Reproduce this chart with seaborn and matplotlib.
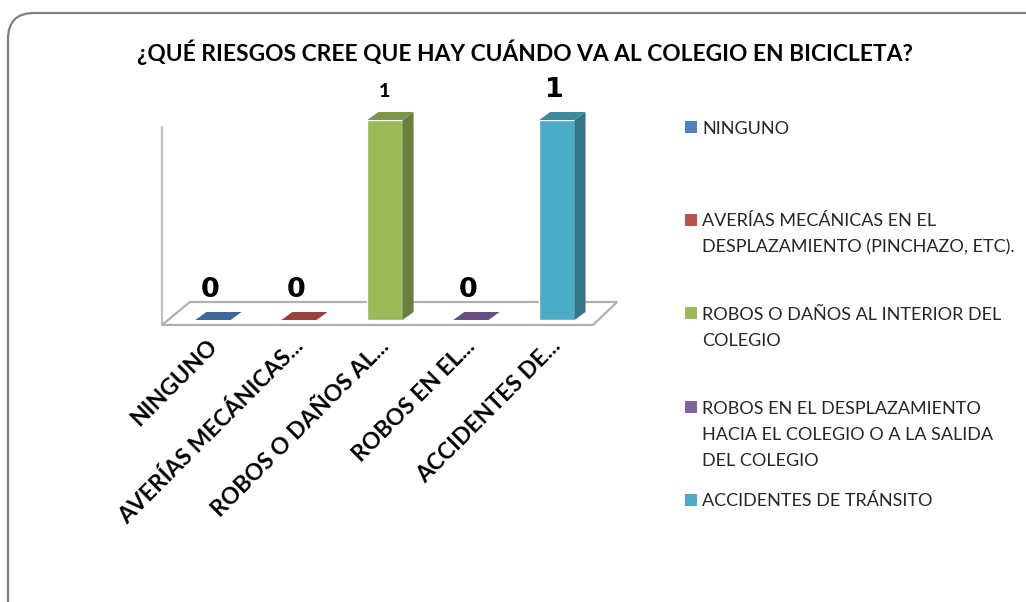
import numpy as np
import matplotlib
matplotlib.use("Agg")
import matplotlib.pyplot as plt
import matplotlib.transforms as mtrans
from matplotlib.patches import Polygon, Rectangle, FancyBboxPatch
import seaborn as sns

# data
categories = ["NINGUNO", "AVERÍAS MECÁNICAS", "ROBOS O DAÑOS", "ROBOS EN EL", "ACCIDENTES"]
values = [0, 0, 1, 0, 1]
tick_labels = ["NINGUNO", "AVERÍAS MECÁNICAS...", "ROBOS O DAÑOS AL...",
               "ROBOS EN EL...", "ACCIDENTES DE..."]
legend_labels = [
    "NINGUNO",
    "AVERÍAS MECÁNICAS EN EL\nDESPLAZAMIENTO (PINCHAZO, ETC).",
    "ROBOS O DAÑOS AL INTERIOR DEL\nCOLEGIO",
    "ROBOS EN EL DESPLAZAMIENTO\nHACIA EL COLEGIO O A LA SALIDA\nDEL COLEGIO",
    "ACCIDENTES DE TRÁNSITO",
]
colors = ["#4F81BD", "#C0504D", "#9BBB59", "#8064A2", "#4BACC6"]
title = "¿QUÉ RIESGOS CREE QUE HAY CUÁNDO VA AL COLEGIO EN BICICLETA?"

sns.set_theme(style="white")
plt.rcParams["font.family"] = ["Lato", "DejaVu Sans"]

W, H = 1026, 602
fig = plt.figure(figsize=(W / 100, H / 100), dpi=100, facecolor="white")

# rounded chart border (pixel coords)
border = FancyBboxPatch((8, -40), 1060, 589 + 40,
                        boxstyle="round,pad=0,rounding_size=26",
                        transform=mtrans.IdentityTransform(),
                        facecolor="none", edgecolor="#7F7F7F", linewidth=1.6)
fig.patches.append(border)

ax = fig.add_axes([162 / W, 1 - 320 / H, 431 / W, 200 / H])
sns.barplot(x=categories, y=values, hue=categories, palette=colors, order=categories,
            hue_order=categories, legend=False, width=0.41, saturation=1, ax=ax)
ax.set_xlim(-0.593, 4.42)
ax.set_ylim(0, 1)
for s in ax.spines.values():
    s.set_visible(False)
ax.set_yticks([])
ax.set_xlabel("")
ax.set_ylabel("")

# floor and back axis line
floor = Polygon([(-0.593, -0.025), (4.42, -0.025), (4.70, 0.09), (-0.27, 0.09)],
                closed=True, facecolor="white", edgecolor="#B0B0B0", linewidth=1.6,
                clip_on=False, zorder=0.5)
ax.add_patch(floor)
ax.plot([-0.593, -0.593], [-0.025, 0.965], color="#C0C0C0", lw=1.6, clip_on=False, zorder=0.4)

# pseudo 3D faces on every bar
dx, dy = 0.128, 0.04


def shade(c, f):
    c = np.array(matplotlib.colors.to_rgb(c))
    return tuple(c * f)


for p, c in zip(ax.patches[:len(values)], colors):
    x0, w, h = p.get_x(), p.get_width(), p.get_height()
    p.set_zorder(2)
    side = Polygon([(x0 + w, 0), (x0 + w + dx, dy), (x0 + w + dx, h + dy), (x0 + w, h)],
                   closed=True, facecolor=shade(c, 0.68), edgecolor="none", clip_on=False, zorder=2)
    top = Polygon([(x0, h), (x0 + dx, h + dy), (x0 + w + dx, h + dy), (x0 + w, h)],
                  closed=True, facecolor=shade(c, 0.8), edgecolor="none", clip_on=False, zorder=2)
    ax.add_patch(side)
    ax.add_patch(top)

# value labels
for i, (p, v) in enumerate(zip(ax.patches[:len(values)], values)):
    xc = p.get_x() + p.get_width() / 2
    if i == 2:
        ax.text(xc, v + 0.1, str(v), ha="center", va="bottom", fontsize=14,
                fontweight="black", color="black", clip_on=False)
    else:
        ax.text(xc - 0.03, v + 0.085, str(v), ha="center", va="bottom", fontsize=19.5,
                fontweight="heavy", family="DejaVu Sans", color="black", clip_on=False)

# category labels
ax.set_xticks(range(len(categories)))
ax.set_xticklabels(tick_labels, rotation=45, ha="right", rotation_mode="anchor",
                   fontsize=16.5, fontweight="bold", color="black")
ax.tick_params(axis="x", length=0, pad=11)
off = mtrans.ScaledTranslation(-5 / 72, 0, fig.dpi_scale_trans)
for lab in ax.get_xticklabels():
    lab.set_transform(lab.get_transform() + off)

# title
fig.text(525 / W, 1 - 52 / H, title, ha="center", va="center", fontsize=16.4,
         fontweight="bold", color="black")

# legend drawn manually
first_y = [127, 220, 313, 407, 500]
for lab, c, yc in zip(legend_labels, colors, first_y):
    fig.patches.append(Rectangle((685 / W, 1 - (yc + 6) / H), 12 / W, 12 / H,
                                 transform=fig.transFigure, facecolor=c, edgecolor="none"))
    for k, line in enumerate(lab.split("\n")):
        fig.text(702 / W, 1 - (yc + 6.5 + 26 * k) / H, line, ha="left", va="baseline",
                 fontsize=13, color="#262626")

fig.savefig("out.png", dpi=100, facecolor="white")
